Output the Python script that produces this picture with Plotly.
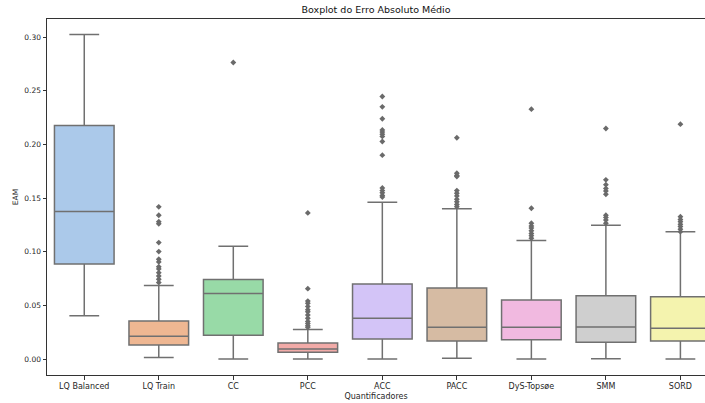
import plotly.graph_objects as go

# Quantifiers and their absolute-error summary statistics
categories = ["LQ Balanced", "LQ Train", "CC", "PCC", "ACC", "PACC", "DyS-Topsøe", "SMM", "SORD"]
lower_whisker = [0.0404, 0.0013, 0.0000, 0.0000, 0.0000, 0.0007, 0.0000, 0.0003, 0.0000]
q1_values = [0.0886, 0.0131, 0.0221, 0.0062, 0.0187, 0.0168, 0.0180, 0.0156, 0.0168]
medians = [0.1374, 0.0211, 0.0610, 0.0093, 0.0380, 0.0296, 0.0296, 0.0298, 0.0286]
q3_values = [0.2177, 0.0354, 0.0740, 0.0149, 0.0700, 0.0662, 0.0550, 0.0590, 0.0581]
upper_whisker = [0.3025, 0.0684, 0.1051, 0.0274, 0.1462, 0.1400, 0.1104, 0.1247, 0.1185]

# Points beyond the whiskers
outliers = {
    "LQ Balanced": [],
    "LQ Train": [0.1418, 0.134, 0.128, 0.126, 0.1085, 0.1001, 0.093, 0.0905, 0.086,
                 0.084, 0.0805, 0.0774, 0.0743, 0.0712],
    "CC": [0.2764],
    "PCC": [0.1362, 0.0656, 0.054, 0.052, 0.049, 0.046, 0.044, 0.041, 0.038,
            0.035, 0.033, 0.031, 0.0295],
    "ACC": [0.2447, 0.235, 0.2239, 0.2135, 0.2115, 0.2095, 0.2075, 0.2027, 0.19,
            0.1595, 0.157, 0.155, 0.1525, 0.151],
    "PACC": [0.2062, 0.1732, 0.171, 0.170, 0.157, 0.1545, 0.152, 0.149, 0.1465,
             0.144, 0.142],
    "DyS-Topsøe": [0.2329, 0.1405, 0.1265, 0.124, 0.122, 0.1195, 0.117, 0.115, 0.1126],
    "SMM": [0.2148, 0.167, 0.1625, 0.159, 0.1565, 0.1535, 0.134, 0.132, 0.1295, 0.1265],
    "SORD": [0.2189, 0.1327, 0.13, 0.128, 0.1255, 0.1235, 0.121, 0.1187],
}

y_ticks = [0.00, 0.05, 0.10, 0.15, 0.20, 0.25, 0.30]
y_tick_labels = ["0.00", "0.05", "0.10", "0.15", "0.20", "0.25", "0.30"]

# Desaturated pastel palette
colors = ["#abc9ea", "#efb792", "#98daa7", "#f2aba8", "#d3c4f7",
          "#d6bba3", "#f1b9e0", "#cfcfcf", "#f4f3ae"]
line_gray = "#707070"
font_family = "DejaVu Sans"

fig = go.Figure()

for i, cat in enumerate(categories):
    fig.add_trace(go.Box(
        x=[cat],
        q1=[q1_values[i]],
        median=[medians[i]],
        q3=[q3_values[i]],
        lowerfence=[lower_whisker[i]],
        upperfence=[upper_whisker[i]],
        boxpoints=False,
        width=0.8,
        whiskerwidth=0.5,
        fillcolor=colors[i],
        line=dict(color=line_gray, width=1.5),
        showlegend=False,
        hoverinfo="skip",
    ))

out_x, out_y = [], []
for cat in categories:
    for v in outliers[cat]:
        out_x.append(cat)
        out_y.append(v)

fig.add_trace(go.Scatter(
    x=out_x, y=out_y, mode="markers",
    marker=dict(symbol="diamond", size=4.5, color="#6a6a6a", line=dict(width=0)),
    showlegend=False, hoverinfo="skip",
))

fig.update_layout(
    width=705, height=403,
    margin=dict(l=47, r=0, t=19, b=28),
    paper_bgcolor="white", plot_bgcolor="white",
    boxmode="overlay",
    font=dict(family=font_family, size=8, color="#262626"),
    title=dict(text="Boxplot do Erro Absoluto Médio", x=0.5, xref="paper",
               xanchor="center", y=0.975, yanchor="middle",
               font=dict(family=font_family, size=9.5, color="#111111")),
)

fig.update_xaxes(
    type="category", categoryorder="array", categoryarray=categories,
    range=[-0.5, 8.33],
    showline=True, linecolor="#333333", linewidth=1, mirror=True,
    ticks="outside", ticklen=3.5, tickcolor="#333333", tickwidth=1,
    showgrid=False, zeroline=False,
    tickfont=dict(size=8),
    title=dict(text="Quantificadores", font=dict(size=8), standoff=3),
)

fig.update_yaxes(
    range=[-0.0149, 0.3169],
    tickvals=y_ticks, ticktext=y_tick_labels,
    showline=True, linecolor="#333333", linewidth=1,
    ticks="outside", ticklen=3.5, tickcolor="#333333", tickwidth=1,
    showgrid=False, zeroline=False,
    tickfont=dict(size=7.5),
    title=dict(text="EAM", font=dict(size=7.5), standoff=4),
)

fig.write_html("out.html")
